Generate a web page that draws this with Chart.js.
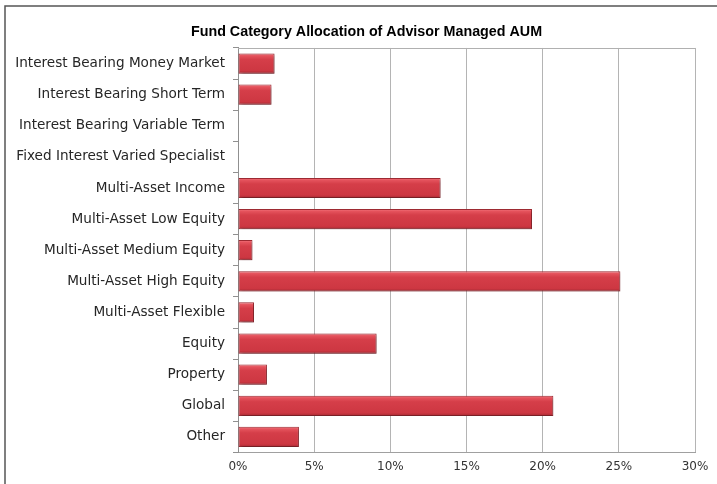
<!DOCTYPE html>
<html lang="en">
<head>
    <meta charset="UTF-8">
    <title>Fund Category Allocation</title>
    <script src="https://cdn.jsdelivr.net/npm/chart.js"></script>
    <style>
        html, body { margin: 0; padding: 0; background: #fff; }
        #wrap { width: 717px; height: 484px; position: relative; }
    </style>
</head>
<body>
    <div id="wrap">
        <canvas id="aum-chart" width="717" height="484"></canvas>
    </div>

    <script>
        const categories = [
            "Interest Bearing Money Market",
            "Interest Bearing Short Term",
            "Interest Bearing Variable Term",
            "Fixed Interest Varied Specialist",
            "Multi-Asset Income",
            "Multi-Asset Low Equity",
            "Multi-Asset Medium Equity",
            "Multi-Asset High Equity",
            "Multi-Asset Flexible",
            "Equity",
            "Property",
            "Global",
            "Other"
        ];
        const allocation = [2.4, 2.2, 0, 0, 13.3, 19.3, 0.95, 25.1, 1.05, 9.1, 1.9, 20.7, 4.0];
        const xTicks = [0, 5, 10, 15, 20, 25, 30];

        const barPct = 0.65;
        const labelFont = "DejaVu Sans";

        // gradient per bar, like the old excel 3d cylinder look
        function barFill(context) {
            const chart = context.chart;
            const y = chart.scales.y;
            if (!y || context.dataIndex === undefined) return "#d23c47";
            const mid = y.getPixelForValue(context.dataIndex);
            const half = Math.abs(y.getPixelForValue(1) - y.getPixelForValue(0)) * barPct / 2;
            if (!isFinite(mid) || !isFinite(half) || half <= 0) return "#d23c47";
            const g = chart.ctx.createLinearGradient(0, mid - half, 0, mid + half);
            g.addColorStop(0, "#f47880");
            g.addColorStop(0.12, "#e4525c");
            g.addColorStop(0.3, "#d53e49");
            g.addColorStop(0.85, "#cd3742");
            g.addColorStop(1, "#a52a33");
            return g;
        }

        const framePlugin = {
            id: "frame",
            afterLayout(chart) {
                // excel centres the title a bit more to the right
                if (chart.titleBlock) {
                    chart.titleBlock.left += 19;
                    chart.titleBlock.right += 19;
                }
            },
            beforeDraw(chart) {
                const ctx = chart.ctx;
                ctx.save();
                ctx.fillStyle = "#fff";
                ctx.fillRect(0, 0, chart.width, chart.height);
                ctx.strokeStyle = "#555";
                ctx.lineWidth = 1.5;
                ctx.beginPath();
                ctx.moveTo(5, chart.height);
                ctx.lineTo(5, 6);
                ctx.lineTo(chart.width, 6);
                ctx.stroke();
                ctx.restore();
            },
            afterDraw(chart) {
                const a = chart.chartArea;
                const ctx = chart.ctx;
                ctx.save();
                ctx.strokeStyle = "#b0b0b0";
                ctx.lineWidth = 1;
                ctx.beginPath();
                ctx.moveTo(a.left, Math.round(a.top) + 0.5);
                ctx.lineTo(a.right, Math.round(a.top) + 0.5);
                ctx.stroke();
                ctx.restore();
            },
            beforeDatasetsDraw(chart) {
                const ctx = chart.ctx;
                ctx.save();
                ctx.shadowColor = "rgba(0,0,0,0.35)";
                ctx.shadowOffsetX = 1;
                ctx.shadowOffsetY = 2;
                ctx.shadowBlur = 3;
            },
            afterDatasetsDraw(chart) {
                chart.ctx.restore();
            }
        };

        const ctx = document.getElementById("aum-chart").getContext("2d");
        new Chart(ctx, {
            type: "bar",
            data: {
                labels: categories,
                datasets: [{
                    label: "Allocation (%)",
                    data: allocation,
                    backgroundColor: barFill,
                    borderColor: "#9e2a32",
                    borderWidth: 1,
                    borderSkipped: false,
                    barPercentage: barPct,
                    categoryPercentage: 1
                }]
            },
            options: {
                indexAxis: "y",
                responsive: false,
                animation: false,
                layout: { padding: { left: 0, right: 22, top: 0, bottom: 0 } },
                plugins: {
                    legend: { display: false },
                    tooltip: { enabled: false },
                    title: {
                        display: true,
                        text: "Fund Category Allocation of Advisor Managed AUM",
                        color: "#000",
                        font: { family: "Liberation Sans", size: 14.3, weight: "bold", lineHeight: 1.2 },
                        padding: { top: 23, bottom: 7.8 }
                    }
                },
                scales: {
                    x: {
                        min: 0,
                        max: 30,
                        afterBuildTicks(scale) {
                            scale.ticks = xTicks.map(v => ({ value: v }));
                        },
                        afterFit(scale) { scale.height = 484 - 452.5; },
                        ticks: {
                            color: "#333",
                            font: { family: labelFont, size: 12 },
                            padding: 7,
                            callback: v => v + "%"
                        },
                        grid: { color: "#b4b4b4", drawTicks: false },
                        border: { display: true, color: "#a0a0a0" }
                    },
                    y: {
                        afterFit(scale) { scale.width = 238; },
                        ticks: {
                            color: "#262626",
                            font: { family: labelFont, size: 13.6 },
                            padding: 8,
                            autoSkip: false
                        },
                        grid: { drawOnChartArea: false, drawTicks: true, tickLength: 5, color: "#909090" },
                        border: { display: true, color: "#909090" }
                    }
                }
            },
            plugins: [framePlugin]
        });
    </script>
</body>
</html>
